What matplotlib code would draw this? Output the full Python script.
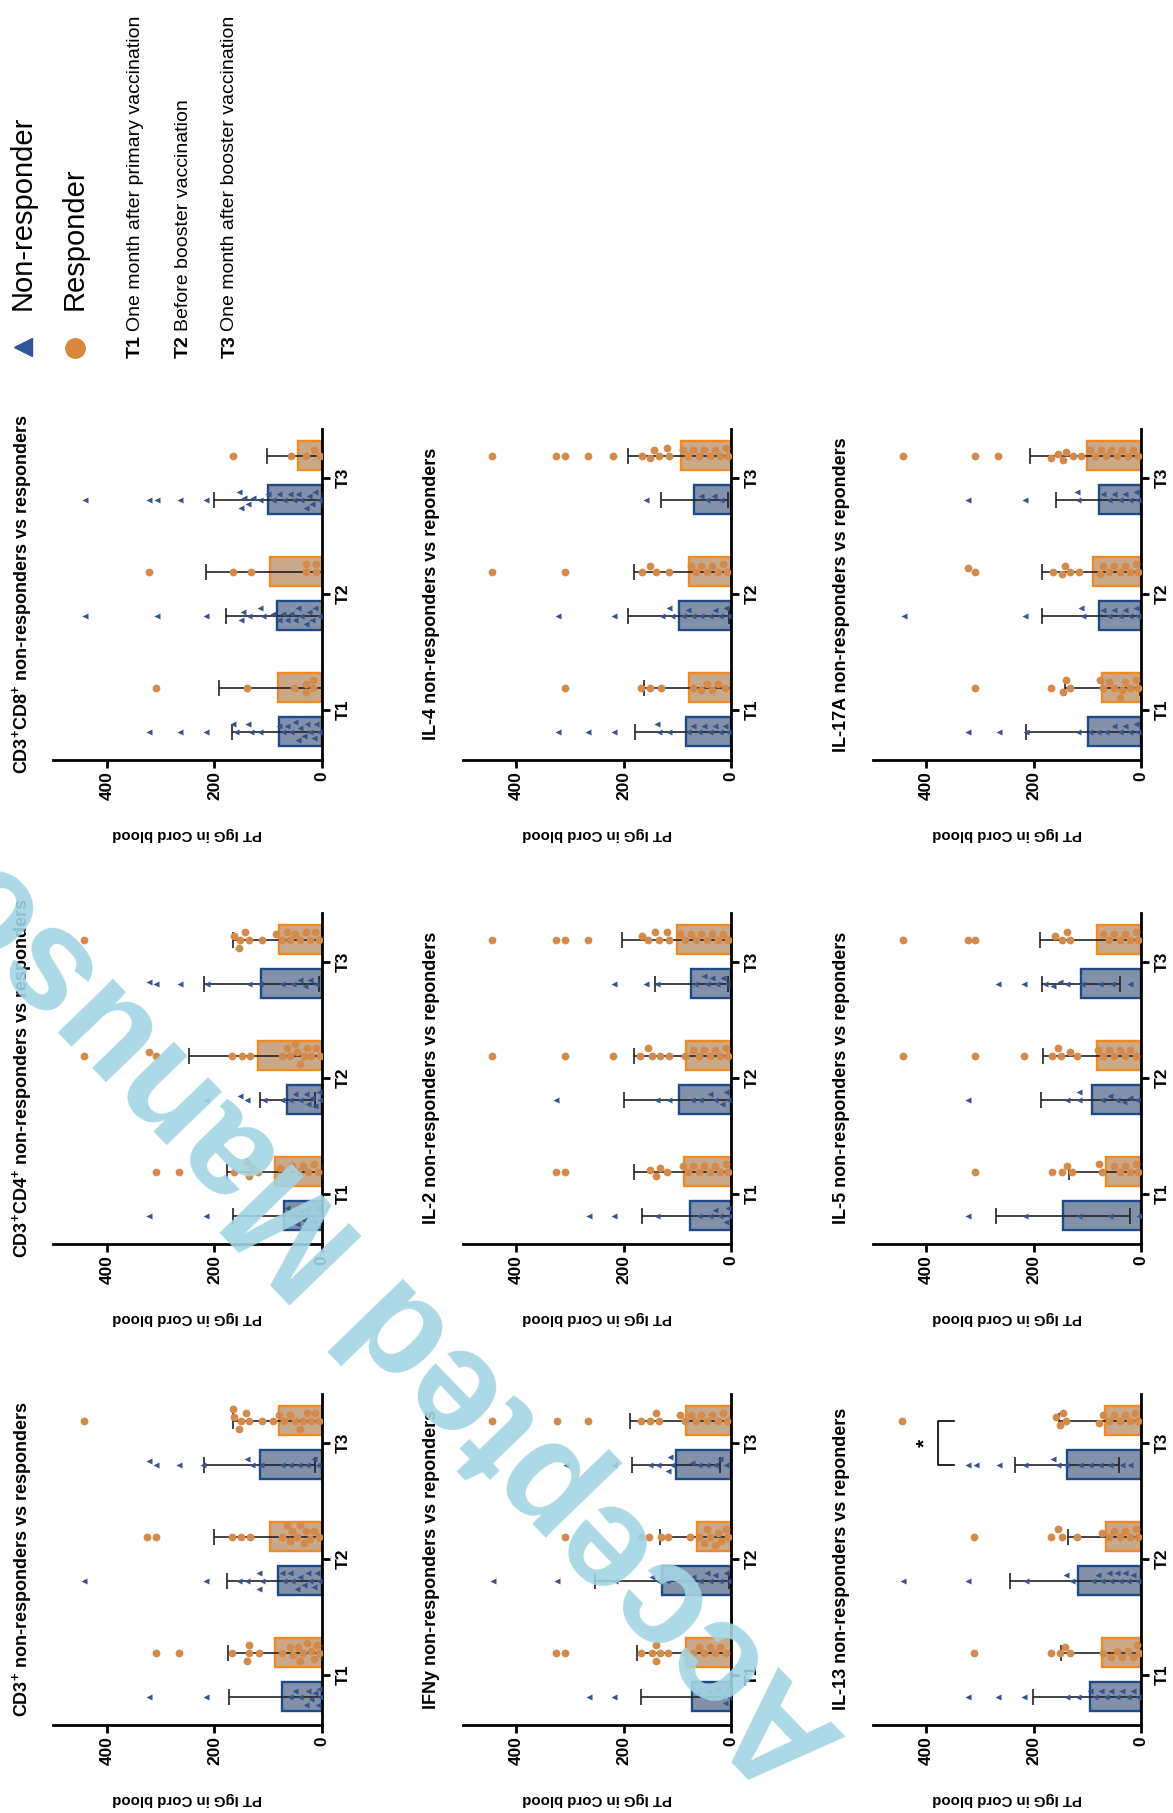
import numpy as np
import matplotlib
matplotlib.use('Agg')
import matplotlib.pyplot as plt

plt.rcParams['font.family'] = ['Liberation Sans', 'DejaVu Sans']
plt.rcParams['mathtext.fontset'] = 'custom'
plt.rcParams['mathtext.rm'] = 'Liberation Sans'
plt.rcParams['mathtext.bf'] = 'Liberation Sans:bold'
plt.rcParams['mathtext.it'] = 'Liberation Sans:italic'

# ---------------- data ----------------
categories = ['T1', 'T2', 'T3']
value_ticks = [0, 200, 400]
value_max = 500
y_label = 'PT IgG in Cord blood'
legend_groups = ['Non-responder', 'Responder']
legend_times = [('T1', 'One month after primary vaccination'),
                ('T2', 'Before booster vaccination'),
                ('T3', 'One month after booster vaccination')]

titles = [
    r'CD3$^{\mathbf{+}}$CD8$^{\mathbf{+}}$ non-responders vs responders',
    'IL-4 non-responders vs reponders',
    'IL-17A non-responders vs reponders',
    r'CD3$^{\mathbf{+}}$CD4$^{\mathbf{+}}$ non-responders vs responders',
    'IL-2 non-responders vs reponders',
    'IL-5 non-responders vs reponders',
    r'CD3$^{\mathbf{+}}$ non-responders vs responders',
    'IFNy non-responders vs reponders',
    'IL-13 non-responders vs reponders',
]

# CD3+
cd3_nr_mean = [75, 82, 116]
cd3_nr_sd = [98, 95, 103]
cd3_r_mean = [87, 97, 79]
cd3_r_sd = [87, 104, 87]
cd3_nr_pts = [[321, 216, 60, 50, 40, 30, 25, 20, 12, 8, 5, 3],
              [442, 216, 155, 139, 117, 117, 111, 75, 71, 59, 55, 46, 40, 34, 25, 22, 15, 9, 5],
              [321, 309, 265, 222, 139, 130, 114, 74, 59, 43, 28, 15, 8]]
cd3_r_pts = [[309, 266, 167, 140, 136, 135, 117, 74, 60, 53, 45, 40, 35, 28, 20, 15, 9, 5],
             [325, 309, 167, 151, 133, 74, 65, 59, 55, 46, 40, 34, 30, 22, 15, 6],
             [442, 166, 164, 155, 151, 142, 136, 111, 90, 80, 70, 59, 50, 40, 35, 28, 20, 12, 5]]

# CD3+CD4+
cd4_nr_mean = [71, 64, 113]
cd4_nr_sd = [95, 52, 107]
cd4_r_mean = [87, 118, 79]
cd4_r_sd = [90, 130, 87]
cd4_nr_pts = [[321, 216, 65, 59, 46, 40, 34, 28, 22, 15, 9, 5],
              [216, 152, 140, 108, 74, 60, 50, 40, 30, 25, 18, 12, 5, 3],
              [322, 309, 264, 214, 136, 115, 74, 53, 40, 31, 22, 10]]
cd4_r_pts = [[309, 265, 164, 140, 136, 130, 118, 78, 65, 55, 45, 35, 25, 15, 8],
             [442, 322, 309, 167, 149, 133, 74, 65, 59, 50, 46, 40, 34, 28, 20, 10, 3],
             [442, 164, 155, 152, 143, 136, 112, 85, 75, 65, 59, 50, 40, 30, 22, 12, 5]]

# CD3+CD8+
cd8_nr_mean = [80, 84, 100]
cd8_nr_sd = [88, 94, 100]
cd8_r_mean = [81, 97, 45]
cd8_r_sd = [110, 118, 57]
cd8_nr_pts = [[321, 264, 216, 165, 160, 138, 132, 116, 80, 72, 65, 58, 50, 45, 40, 34, 28, 22, 15, 10, 5],
              [441, 307, 216, 150, 147, 135, 116, 110, 90, 80, 72, 65, 58, 50, 44, 38, 30, 24, 18, 12, 6],
              [441, 322, 307, 264, 216, 155, 150, 145, 138, 129, 116, 100, 90, 80, 70, 60, 52, 45, 38, 30, 24, 18, 12, 6]]
cd8_r_pts = [[309, 140, 51, 29, 29, 17, 17],
             [322, 166, 132, 29, 29, 11, 11],
             [166, 57, 29, 14, 4]]

# IFNy
ifn_nr_mean = [73, 128, 102]
ifn_nr_sd = [94, 125, 82]
ifn_r_mean = [84, 63, 84]
ifn_r_sd = [91, 70, 104]
ifn_nr_pts = [[265, 218, 61, 50, 42, 35, 24, 18, 11, 5, 3],
              [443, 324, 216, 148, 136, 120, 92, 77, 70, 58, 45, 39, 30, 21, 10, 5],
              [308, 218, 151, 136, 117, 114, 110, 73, 60, 45, 30, 20, 10]]
ifn_r_pts = [[325, 310, 167, 148, 140, 139, 133, 117, 85, 70, 60, 50, 40, 30, 20, 10],
             [310, 167, 153, 131, 117, 76, 60, 50, 45, 40, 30, 25, 18, 10, 5],
             [445, 324, 267, 167, 151, 139, 134, 95, 85, 75, 65, 55, 45, 35, 25, 15, 8]]

# IL-2
il2_nr_mean = [77, 96, 74]
il2_nr_sd = [88, 104, 68]
il2_r_mean = [87, 84, 100]
il2_r_sd = [93, 96, 103]
il2_nr_pts = [[264, 218, 138, 60, 40, 30, 20, 10, 5, 3],
              [325, 138, 116, 73, 57, 40, 30, 17, 10, 5],
              [217, 159, 138, 67, 50, 45, 35, 26, 15, 7]]
il2_r_pts = [[326, 310, 150, 140, 132, 119, 90, 80, 70, 60, 50, 40, 30, 20, 10, 5],
             [445, 310, 219, 169, 154, 147, 132, 116, 85, 70, 60, 50, 40, 30, 20, 10, 5],
             [445, 326, 309, 267, 166, 154, 141, 135, 119, 116, 95, 85, 75, 65, 55, 45, 35, 25, 15, 5]]

# IL-4
il4_nr_mean = [84, 97, 68]
il4_nr_sd = [95, 94, 62]
il4_r_mean = [78, 79, 94]
il4_r_sd = [84, 101, 98]
il4_nr_pts = [[323, 266, 217, 137, 135, 115, 80, 70, 60, 50, 40, 30, 20, 12, 5],
              [323, 217, 128, 115, 109, 90, 80, 70, 55, 40, 30, 20, 10, 5],
              [158, 56, 44, 31, 19]]
il4_r_pts = [[309, 167, 150, 131, 70, 55, 45, 35, 25, 12],
             [445, 309, 166, 150, 140, 115, 75, 65, 55, 45, 35, 25, 15, 8],
             [445, 325, 309, 267, 219, 166, 150, 144, 134, 119, 116, 90, 80, 70, 60, 50, 40, 30, 20, 10, 5]]

# IL-13
il13_nr_mean = [95, 117, 138]
il13_nr_sd = [106, 127, 97]
il13_r_mean = [72, 65, 67]
il13_r_sd = [77, 71, 85]
il13_nr_pts = [[322, 266, 218, 137, 117, 95, 85, 75, 65, 55, 45, 35, 25, 15, 5],
               [443, 323, 215, 139, 129, 89, 80, 73, 60, 55, 45, 39, 30, 24, 15, 5],
               [323, 308, 264, 216, 164, 155, 139, 114, 95, 76, 58, 36, 20]]
il13_r_pts = [[311, 167, 151, 142, 132, 70, 55, 45, 35, 25, 15, 8, 3],
              [311, 167, 154, 148, 120, 73, 60, 50, 40, 30, 20, 10, 5],
              [445, 159, 151, 145, 139, 78, 70, 60, 50, 40, 30, 20, 12, 5]]
il13_sig_level = 378
il13_sig_label = '*'

# IL-5
il5_nr_mean = [145, 92, 112]
il5_nr_sd = [125, 95, 73]
il5_r_mean = [65, 82, 82]
il5_r_sd = [70, 100, 106]
il5_nr_pts = [[323, 216, 116, 57, 4],
              [323, 138, 116, 116, 73, 57, 45, 32, 20, 7],
              [266, 217, 179, 163, 151, 138, 110, 76, 54, 20]]
il5_r_pts = [[309, 166, 147, 138, 129, 79, 73, 50, 40, 30, 20, 10, 5],
             [444, 309, 217, 166, 154, 149, 132, 119, 80, 70, 60, 50, 40, 30, 20, 10],
             [444, 323, 309, 160, 147, 138, 132, 70, 60, 50, 40, 30, 20, 10, 5]]

# IL-17A
il17_nr_mean = [98, 78, 78]
il17_nr_sd = [117, 106, 81]
il17_r_mean = [72, 90, 101]
il17_r_sd = [70, 94, 106]
il17_nr_pts = [[322, 264, 215, 117, 95, 80, 65, 50, 40, 30, 20, 10, 5],
               [442, 216, 111, 108, 70, 60, 50, 40, 30, 20, 10, 5],
               [322, 216, 120, 117, 70, 60, 50, 40, 30, 20, 10, 5]]
il17_r_pts = [[309, 167, 145, 139, 132, 76, 70, 60, 50, 40, 35, 30, 20, 10, 5],
              [322, 309, 164, 148, 142, 132, 115, 77, 70, 60, 50, 40, 30, 20, 10, 5],
              [444, 310, 266, 167, 154, 145, 139, 126, 111, 95, 85, 75, 65, 55, 45, 35, 25, 15, 5]]

panel_data = [
    (cd8_nr_mean, cd8_nr_sd, cd8_r_mean, cd8_r_sd, cd8_nr_pts, cd8_r_pts),
    (il4_nr_mean, il4_nr_sd, il4_r_mean, il4_r_sd, il4_nr_pts, il4_r_pts),
    (il17_nr_mean, il17_nr_sd, il17_r_mean, il17_r_sd, il17_nr_pts, il17_r_pts),
    (cd4_nr_mean, cd4_nr_sd, cd4_r_mean, cd4_r_sd, cd4_nr_pts, cd4_r_pts),
    (il2_nr_mean, il2_nr_sd, il2_r_mean, il2_r_sd, il2_nr_pts, il2_r_pts),
    (il5_nr_mean, il5_nr_sd, il5_r_mean, il5_r_sd, il5_nr_pts, il5_r_pts),
    (cd3_nr_mean, cd3_nr_sd, cd3_r_mean, cd3_r_sd, cd3_nr_pts, cd3_r_pts),
    (ifn_nr_mean, ifn_nr_sd, ifn_r_mean, ifn_r_sd, ifn_nr_pts, ifn_r_pts),
    (il13_nr_mean, il13_nr_sd, il13_r_mean, il13_r_sd, il13_nr_pts, il13_r_pts),
]

# ---------------- style ----------------
W, H = 1173, 1813
NR_FILL = '#8291a9'
NR_EDGE = '#1f4a8a'
NR_PT = '#34558c'
R_FILL = '#c9a98a'
R_EDGE = '#f28a24'
R_PT = '#d38a4a'
ERR = '#222222'
WM = '#a3d5e4'

col_left = [53.3, 462.5, 872.5]
row_top = [428.5, 912.5, 1393.5]
ax_w, ax_h = 268.5, 331.5
val_px = ax_w / value_max       # pixels per value unit
cat_lo, cat_hi = -0.435, 2.424
cat_px = ax_h / (cat_hi - cat_lo)
shift = 0.19
bar_h = 0.245


def swarm(vals, diam):
    """Beeswarm layout: offsets (pixels) along the category axis."""
    step = 2.0
    max_off = 13.0
    cands = [0.0]
    k = 1
    while k * step <= max_off:
        cands += [k * step, -k * step]
        k += 1
    placed = []
    offs = [0.0] * len(vals)
    for i in sorted(range(len(vals)), key=lambda j: vals[j]):
        x = vals[i] * val_px
        chosen, best_c, best_s = None, 0.0, -1.0
        for c in cands:
            md = min([np.hypot(x - px, c - py) for px, py in placed] or [1e9])
            if md >= diam:
                chosen = c
                break
            if md > best_s:
                best_s, best_c = md, c
        if chosen is None:
            chosen = best_c
        placed.append((x, chosen))
        offs[i] = chosen
    return offs


fig = plt.figure(figsize=(W / 100, H / 100), dpi=100)
fig.patch.set_facecolor('white')

pos = np.arange(len(categories))
for idx, (title, data) in enumerate(zip(titles, panel_data)):
    r, c = divmod(idx, 3)
    left, top = col_left[c], row_top[r]
    ax = fig.add_axes([left / W, 1 - (top + ax_h) / H, ax_w / W, ax_h / H])
    nr_mean, nr_sd, r_mean, r_sd, nr_pts, r_pts = data

    ax.barh(pos - shift, nr_mean, height=bar_h, color=NR_FILL, edgecolor=NR_EDGE,
            linewidth=1.7, zorder=2)
    ax.barh(pos + shift, r_mean, height=bar_h, color=R_FILL, edgecolor=R_EDGE,
            linewidth=1.7, zorder=2)
    ax.errorbar(nr_mean, pos - shift, xerr=nr_sd, fmt='none', ecolor=ERR,
                elinewidth=1.2, capsize=6, capthick=1.2, zorder=3)
    ax.errorbar(r_mean, pos + shift, xerr=r_sd, fmt='none', ecolor=ERR,
                elinewidth=1.2, capsize=6, capthick=1.2, zorder=3)
    for k in range(len(categories)):
        off = np.array(swarm(nr_pts[k], 7.0)) / cat_px
        ax.plot(nr_pts[k], pos[k] - shift + off, linestyle='none', marker='<',
                ms=4.6, color=NR_PT, mec='none', zorder=4)
        off = np.array(swarm(r_pts[k], 7.5)) / cat_px
        ax.plot(r_pts[k], pos[k] + shift + off, linestyle='none', marker='o',
                ms=5.6, color=R_PT, mec='none', zorder=4)

    if idx == 8:
        ax.plot([il13_sig_level - 29, il13_sig_level, il13_sig_level, il13_sig_level - 29],
                [2 - shift, 2 - shift, 2 + shift, 2 + shift], color='black', lw=1.2,
                zorder=4, clip_on=False)
        ax.text(il13_sig_level + 24, 2.0, il13_sig_label, rotation=90, ha='center',
                va='center', fontsize=15, fontweight='bold')

    ax.set_xlim(value_max, 0)
    ax.set_ylim(cat_lo, cat_hi)
    ax.set_xticks(value_ticks)
    ax.set_xticklabels([str(v) for v in value_ticks], rotation=90,
                       fontsize=12.5, fontweight='bold')
    ax.set_yticks(pos)
    ax.set_yticklabels(categories, rotation=90, fontsize=12.5, fontweight='bold',
                       va='center')
    ax.yaxis.tick_right()
    ax.spines['left'].set_visible(False)
    ax.spines['top'].set_visible(False)
    ax.spines['bottom'].set_linewidth(2.0)
    ax.spines['right'].set_linewidth(2.0)
    ax.tick_params(axis='x', length=6, width=2, pad=2)
    ax.tick_params(axis='y', length=6, width=2, pad=4)
    ax.set_facecolor('none')

# overlay in pixel coordinates for titles, labels, legend, watermark
ov = fig.add_axes([0, 0, 1, 1], zorder=10)
ov.set_xlim(0, W)
ov.set_ylim(H, 0)
ov.axis('off')
ov.patch.set_visible(False)

for idx, title in enumerate(titles):
    r, c = divmod(idx, 3)
    left, top = col_left[c], row_top[r]
    ov.text(left - 31, top + ax_h / 2, title, rotation=90, ha='center', va='center',
            fontsize=13, fontweight='bold')
    ov.text(left + ax_w / 2, top + ax_h + 74, y_label, rotation=180, ha='center',
            va='center', fontsize=10.8, fontweight='bold')

# legend
ov.plot([23], [347], marker='<', ms=13, color='#2f5596', linestyle='none')
ov.text(23, 310, legend_groups[0], rotation=90, ha='center', va='bottom', fontsize=21)
ov.plot([75], [348], marker='o', ms=14, color='#d8883c', linestyle='none')
ov.text(75, 310, legend_groups[1], rotation=90, ha='center', va='bottom', fontsize=21)
for (tag, desc), x in zip(legend_times, [135, 183, 230]):
    ov.text(x, 358, tag, rotation=90, ha='center', va='bottom', fontsize=14,
            fontweight='bold')
    ov.text(x, 331, desc, rotation=90, ha='center', va='bottom', fontsize=14)

# watermark
ov.text(848, 1738, 'Accepted Manuscript', rotation=134, rotation_mode='anchor',
        ha='left', va='baseline', fontsize=104, fontweight='bold', color=WM,
        alpha=0.9, zorder=20)

fig.savefig('out.png', dpi=100, facecolor='white')
